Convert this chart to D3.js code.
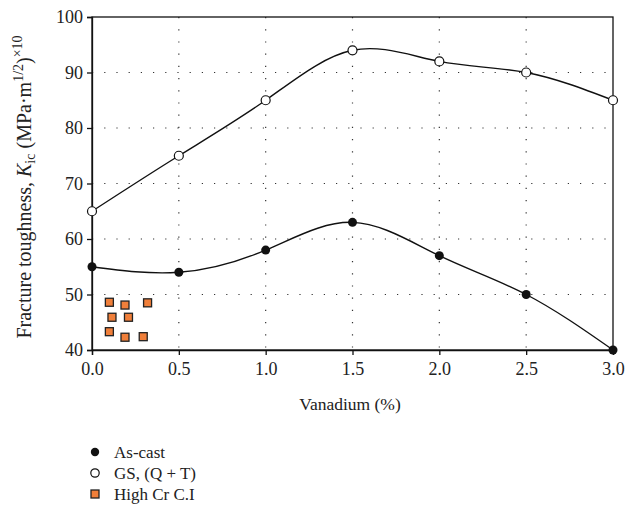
<!DOCTYPE html>
<html><head><meta charset="utf-8">
<script src="https://cdn.jsdelivr.net/npm/d3@7/dist/d3.min.js"></script>
<style>body{margin:0;background:#fff}svg{display:block}svg text{font-family:"Liberation Serif","DejaVu Serif",serif !important;fill:#222}</style>
</head><body>
<script>
const vanadium = [0, 0.5, 1.0, 1.5, 2.0, 2.5, 3.0];
const asCast = [55, 54, 58, 63, 57, 50, 40];
const gsQT = [65, 75, 85, 94, 92, 90, 85];
const highCrX = [0.10, 0.19, 0.32, 0.115, 0.21, 0.10, 0.19, 0.295];
const highCrY = [48.6, 48.1, 48.5, 45.9, 45.9, 43.3, 42.3, 42.4];
const xTicks = [0, 0.5, 1.0, 1.5, 2.0, 2.5, 3.0];
const yTicks = [40, 50, 60, 70, 80, 90, 100];
const legendLabels = ["As-cast", "GS, (Q + T)", "High Cr C.I"];

const W = 626, H = 517;
const L = 92, R = 613, T = 17, B = 350;
const svg = d3.select("body").append("svg").attr("width", W).attr("height", H);
const x = d3.scaleLinear().domain([0, 3]).range([L, R]);
const y = d3.scaleLinear().domain([40, 100]).range([B, T]);

// grid
const g = svg.append("g");
xTicks.slice(1, -1).forEach(t => g.append("line").attr("x1", x(t)).attr("x2", x(t)).attr("y1", T).attr("y2", B)
  .attr("stroke", "#333").attr("stroke-width", 1.2).attr("stroke-dasharray", "1.2,11"));
yTicks.slice(1, -1).forEach(t => g.append("line").attr("x1", L).attr("x2", R).attr("y1", y(t)).attr("y2", y(t))
  .attr("stroke", "#333").attr("stroke-width", 1.2).attr("stroke-dasharray", "1.2,11"));

// frame
svg.append("rect").attr("x", L).attr("y", T).attr("width", R - L).attr("height", B - T)
  .attr("fill", "none").attr("stroke", "#111").attr("stroke-width", 1.3);

const xa = svg.append("g").attr("transform", `translate(0,${B})`)
  .call(d3.axisBottom(x).tickValues(xTicks).tickFormat(d3.format(".1f")).tickSize(5).tickPadding(7));
const ya = svg.append("g").attr("transform", `translate(${L},0)`)
  .call(d3.axisLeft(y).tickValues(yTicks).tickSize(5).tickPadding(4));
[xa, ya].forEach(a => {
  a.attr("font-size", null).attr("font-family", null);
  a.select(".domain").attr("stroke", "#111").attr("stroke-width", 1.3);
  a.selectAll(".tick line").attr("stroke", "#111").attr("stroke-width", 1.3);
  a.selectAll(".tick text").style("font-size", "18px").attr("fill", "#222");
});

svg.append("text").attr("x", 350).attr("y", 410).attr("text-anchor", "middle")
  .style("font-size", "17.5px").text("Vanadium (%)");

const yl = svg.append("text").attr("transform", `translate(31,${187}) rotate(-90)`)
  .attr("text-anchor", "middle").style("font-size", "20px");
yl.append("tspan").text("Fracture toughness, ");
yl.append("tspan").attr("font-style", "italic").text("K");
yl.append("tspan").style("font-size", "14px").attr("dy", 4).text("ic");
yl.append("tspan").attr("dy", -4).text(" (MPa·m");
yl.append("tspan").style("font-size", "14px").attr("dy", -8).text("1/2");
yl.append("tspan").attr("dy", 8).text(")");
yl.append("tspan").style("font-size", "14px").attr("dy", -9).text("×10");

const line = d3.line().x((d, i) => x(vanadium[i])).y(d => y(d)).curve(d3.curveNatural);
[asCast, gsQT].forEach(s => svg.append("path").attr("d", line(s)).attr("fill", "none")
  .attr("stroke", "#111").attr("stroke-width", 1.4));

svg.selectAll(".ac").data(asCast).enter().append("circle")
  .attr("cx", (d, i) => x(vanadium[i])).attr("cy", d => y(d)).attr("r", 4.5).attr("fill", "#111");
svg.selectAll(".gs").data(gsQT).enter().append("circle")
  .attr("cx", (d, i) => x(vanadium[i])).attr("cy", d => y(d)).attr("r", 4.5)
  .attr("fill", "#fff").attr("stroke", "#111").attr("stroke-width", 1.2);
svg.selectAll(".hc").data(highCrX).enter().append("rect")
  .attr("x", (d) => x(d) - 4).attr("y", (d, i) => y(highCrY[i]) - 4).attr("width", 8).attr("height", 8)
  .attr("fill", "#f07f3a").attr("stroke", "#222").attr("stroke-width", 1.3);

// legend
const lg = svg.append("g");
const ly = [452, 473, 494];
lg.append("circle").attr("cx", 95).attr("cy", ly[0]).attr("r", 4.2).attr("fill", "#111");
lg.append("circle").attr("cx", 95).attr("cy", ly[1]).attr("r", 4.2).attr("fill", "#fff").attr("stroke", "#111").attr("stroke-width", 1.2);
lg.append("rect").attr("x", 91).attr("y", ly[2] - 4).attr("width", 8).attr("height", 8)
  .attr("fill", "#f07f3a").attr("stroke", "#222").attr("stroke-width", 1.3);
legendLabels.forEach((t, i) => lg.append("text").attr("x", 114).attr("y", ly[i] + 5.5).style("font-size", "17px").text(t));
</script>
</body></html>
